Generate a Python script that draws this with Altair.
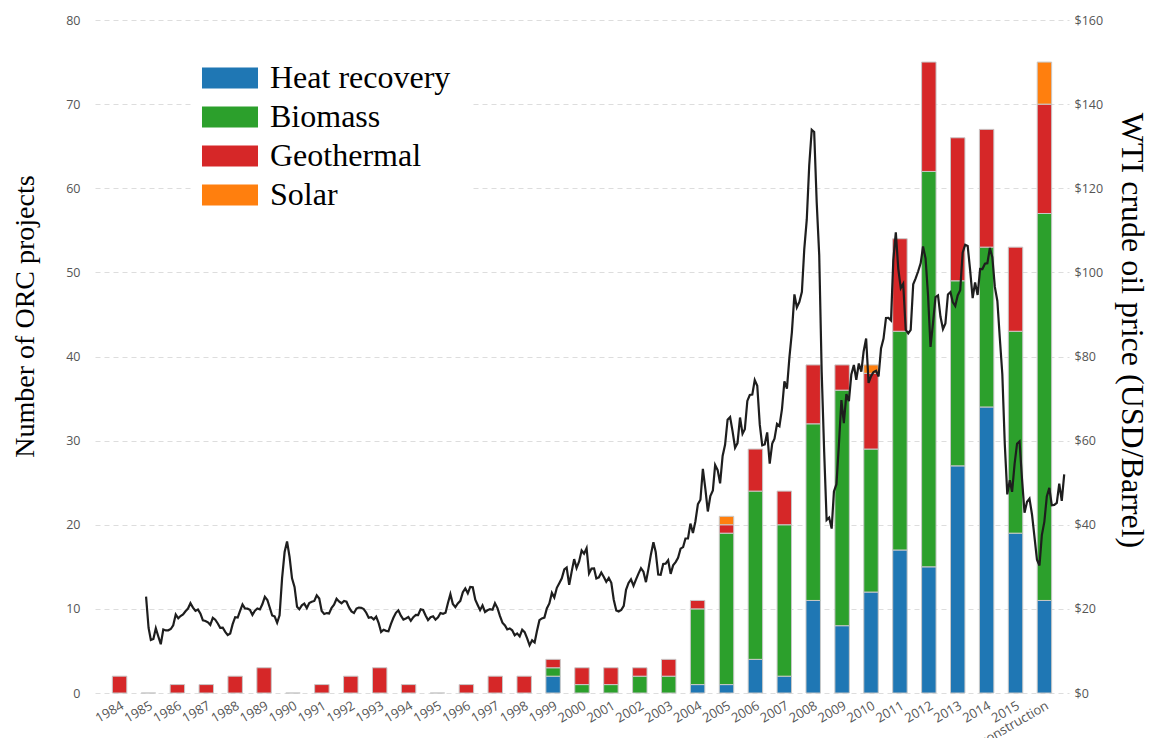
import altair as alt
import pandas as pd

categories = ["1984", "1985", "1986", "1987", "1988", "1989", "1990", "1991",
              "1992", "1993", "1994", "1995", "1996", "1997", "1998", "1999",
              "2000", "2001", "2002", "2003", "2004", "2005", "2006", "2007",
              "2008", "2009", "2010", "2011", "2012", "2013", "2014", "2015",
              "Under construction"]

heat_recovery = [0, 0, 0, 0, 0, 0, 0, 0, 0, 0, 0, 0, 0, 0, 0, 2,
                 0, 0, 0, 0, 1, 1, 4, 2, 11, 8, 12, 17, 15, 27, 34, 19, 11]
biomass = [0, 0, 0, 0, 0, 0, 0, 0, 0, 0, 0, 0, 0, 0, 0, 1,
           1, 1, 2, 2, 9, 18, 20, 18, 21, 28, 17, 26, 47, 22, 19, 24, 46]
geothermal = [2, 0, 1, 1, 2, 3, 0, 1, 2, 3, 1, 0, 1, 2, 2, 1,
              2, 2, 1, 2, 1, 1, 5, 4, 7, 3, 9, 11, 13, 17, 14, 10, 13]
solar = [0, 0, 0, 0, 0, 0, 0, 0, 0, 0, 0, 0, 0, 0, 0, 0,
         0, 0, 0, 0, 0, 1, 0, 0, 0, 0, 1, 0, 0, 0, 0, 0, 5]

sources = ["Heat recovery", "Biomass", "Geothermal", "Solar"]
source_colors = ["#1f77b4", "#2ca02c", "#d62728", "#ff7f0e"]

# WTI monthly average price, Jan 1986 - Dec 2016 (USD/barrel)
wti_first_year = 1986
wti_last_year = 2016
wti_prices = [
    22.93, 15.46, 12.61, 12.84, 15.38, 13.43, 11.59, 15.10, 14.87, 14.90, 15.22, 16.11,
    18.65, 17.75, 18.30, 18.68, 19.44, 20.07, 21.34, 20.31, 19.53, 19.86, 18.85, 17.28,
    17.13, 16.80, 16.20, 17.86, 17.42, 16.53, 15.50, 15.52, 14.54, 13.77, 14.14, 16.38,
    18.02, 17.94, 19.48, 21.07, 20.12, 20.05, 19.78, 18.58, 19.59, 20.10, 19.86, 21.10,
    22.86, 22.11, 20.39, 18.43, 18.20, 16.70, 18.45, 27.31, 33.51, 36.04, 32.33, 27.28,
    25.23, 20.48, 19.90, 20.83, 21.23, 20.19, 21.40, 21.69, 21.89, 23.23, 22.46, 19.50,
    18.79, 19.01, 18.92, 20.23, 20.98, 22.39, 21.78, 21.34, 21.88, 21.69, 20.34, 19.41,
    19.03, 20.09, 20.32, 20.25, 19.95, 19.09, 17.89, 18.01, 17.50, 18.15, 16.61, 14.52,
    15.03, 14.78, 14.68, 16.42, 17.89, 19.06, 19.66, 18.38, 17.45, 17.72, 18.07, 17.16,
    18.04, 18.57, 18.54, 19.90, 19.74, 18.45, 17.33, 18.02, 18.23, 17.43, 17.99, 19.03,
    18.85, 19.09, 21.33, 23.50, 21.17, 20.42, 21.30, 21.90, 23.97, 24.88, 23.71, 25.23,
    25.13, 22.18, 20.97, 19.70, 20.82, 19.26, 19.66, 19.95, 19.80, 21.33, 20.19, 18.33,
    16.72, 16.06, 15.12, 15.35, 14.91, 13.72, 14.17, 13.47, 15.03, 14.46, 13.00, 11.35,
    12.52, 12.01, 14.68, 17.31, 17.72, 17.92, 20.10, 21.28, 23.80, 22.69, 25.00, 26.10,
    27.26, 29.37, 29.84, 25.72, 28.79, 31.82, 29.70, 31.26, 33.88, 33.11, 34.42, 28.44,
    29.59, 29.61, 27.24, 27.49, 28.63, 27.60, 26.43, 27.37, 26.20, 22.17, 19.64, 19.39,
    19.72, 20.72, 24.53, 26.18, 27.04, 25.52, 26.97, 28.39, 29.66, 28.84, 26.35, 29.46,
    32.95, 35.83, 33.51, 28.17, 28.11, 30.66, 30.75, 31.57, 28.31, 30.34, 31.11, 32.13,
    34.31, 34.69, 36.74, 36.75, 40.28, 38.03, 40.78, 44.90, 45.94, 53.28, 48.47, 43.15,
    46.84, 48.15, 54.19, 52.98, 49.83, 56.35, 59.00, 64.99, 65.59, 62.26, 58.32, 59.41,
    65.49, 61.63, 62.69, 69.44, 70.84, 70.95, 74.41, 73.04, 63.80, 58.89, 59.08, 61.96,
    54.51, 59.28, 60.44, 63.98, 63.46, 67.49, 74.12, 72.36, 79.92, 85.80, 94.77, 91.69,
    92.97, 95.39, 105.45, 112.58, 125.40, 133.88, 133.37, 116.67, 104.11, 76.61, 57.31, 41.12,
    41.71, 39.09, 47.94, 49.65, 59.03, 69.64, 64.15, 71.05, 69.41, 75.72, 77.99, 74.47,
    78.33, 76.39, 81.20, 84.29, 73.74, 75.34, 76.32, 76.60, 75.24, 81.89, 84.25, 89.15,
    89.17, 88.58, 102.86, 109.53, 100.90, 96.26, 97.30, 86.33, 85.52, 86.32, 97.16, 98.56,
    100.27, 102.20, 106.16, 103.32, 94.65, 82.30, 87.90, 94.13, 94.51, 89.49, 86.53, 87.86,
    94.76, 95.31, 92.94, 92.02, 94.51, 95.77, 104.67, 106.57, 106.29, 100.54, 93.86, 97.63,
    94.62, 100.82, 100.80, 102.07, 102.18, 105.79, 103.59, 96.54, 93.21, 84.40, 75.79, 59.29,
    47.22, 50.58, 47.82, 54.45, 59.27, 59.82, 50.90, 42.87, 45.48, 46.22, 42.44, 37.19,
    31.68, 30.32, 37.55, 40.75, 46.71, 48.76, 44.65, 44.72, 45.18, 49.78, 45.66, 51.97,
]

left_ticks = [0, 10, 20, 30, 40, 50, 60, 70, 80]
right_ticks = [0, 20, 40, 60, 80, 100, 120, 140, 160]

# ---- build tables
rows = []
for i, cat in enumerate(categories):
    vals = [heat_recovery[i], biomass[i], geothermal[i], solar[i]]
    total = sum(vals)
    for k, (src, v) in enumerate(zip(sources, vals)):
        if v > 0 or (total == 0 and src == "Geothermal"):
            rows.append({"cat": cat, "source": src, "n": v, "k": k})
bars_df = pd.DataFrame(rows)

line_rows = []
idx = 0
for yr in range(wti_first_year, wti_last_year + 1):
    for m in range(1, 13):
        line_rows.append({"date": f"{yr}-{m:02d}-01", "price": wti_prices[idx]})
        idx += 1
line_df = pd.DataFrame(line_rows)

label_font = "Open Sans"
label_color = "#555555"
serif = "Liberation Serif"

bars = alt.Chart(bars_df).mark_bar(stroke="#c8c8c8", strokeWidth=1).encode(
    x=alt.X("cat:N", sort=categories,
            scale=alt.Scale(paddingInner=0.5, paddingOuter=0.6),
            axis=alt.Axis(title=None, labelAngle=-30, labelFont=label_font,
                          labelFontSize=13, labelColor=label_color,
                          labelPadding=6, domain=False, ticks=False,
                          grid=False, labelOverlap=False)),
    y=alt.Y("n:Q", stack="zero",
            scale=alt.Scale(domain=[0, 80], nice=False),
            axis=alt.Axis(values=left_ticks, title="Number of ORC projects",
                          titleFont=serif, titleFontSize=28,
                          titleFontWeight="normal", titleColor="#000000",
                          titleAngle=270, titleX=-70, titleY=296,
                          titleAlign="center", titleBaseline="middle",
                          labelFont=label_font, labelFontSize=12.5,
                          labelColor=label_color, labelPadding=15,
                          domain=False, ticks=False, grid=True,
                          gridColor="#dddddd", gridDash=[5, 4], gridWidth=1)),
    color=alt.Color("source:N", title=None,
                    scale=alt.Scale(domain=sources, range=source_colors),
                    legend=alt.Legend(orient="none", legendX=99, legendY=22,
                                      fillColor="#ffffff", padding=20,
                                      symbolType="M-1.867,-0.7L1.867,-0.7L1.867,0.7L-1.867,0.7Z",
                                      symbolSize=900, symbolStrokeWidth=0,
                                      symbolOpacity=1,
                                      labelFont=serif, labelFontSize=32,
                                      labelColor="#000000", labelOffset=24,
                                      rowPadding=7, labelLimit=400)),
    order=alt.Order("k:Q", sort="ascending"),
)

line = alt.Chart(line_df).mark_line(color="#1e1e1e", strokeWidth=2.2).encode(
    x=alt.X("date:T",
            scale=alt.Scale(domain=[alt.DateTime(year=1984, month=4, date=13, utc=True),
                                    alt.DateTime(year=2017, month=1, date=29, utc=True)],
                            nice=False),
            axis=None),
    y=alt.Y("price:Q",
            scale=alt.Scale(domain=[0, 160], nice=False),
            axis=alt.Axis(orient="right", values=right_ticks, format="$.0f",
                          title="WTI crude oil price (USD/Barrel)",
                          titleFont=serif, titleFontSize=32,
                          titleFontWeight="normal", titleColor="#000000",
                          titleAngle=90, titleX=62, titleY=310,
                          titleAlign="center", titleBaseline="middle",
                          labelFont=label_font, labelFontSize=12.5,
                          labelColor=label_color, labelPadding=5,
                          domain=False, ticks=False, grid=False)),
)

chart = alt.layer(bars, line).resolve_scale(
    x="independent", y="independent"
).properties(
    width=974,
    height=673,
    background="#ffffff",
    autosize=alt.AutoSizeParams(type="none"),
    padding={"left": 87, "top": 12, "right": 81, "bottom": 45},
).configure_view(strokeWidth=0)

chart.save("out.html", embed_options={"renderer": "svg", "actions": False})
